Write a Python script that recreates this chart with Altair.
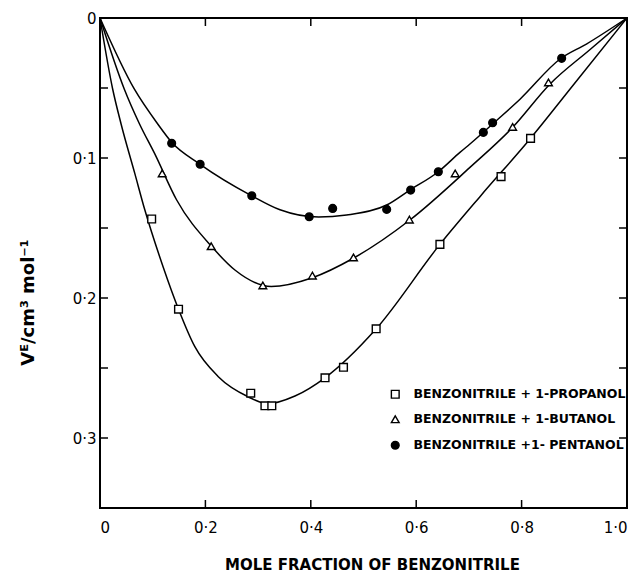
import altair as alt
import pandas as pd

SERIES = ["BENZONITRILE + 1-PROPANOL", "BENZONITRILE + 1-BUTANOL", "BENZONITRILE +1- PENTANOL"]

# measured points
prop_x = [0.098, 0.149, 0.286, 0.313, 0.326, 0.427, 0.462, 0.524, 0.645, 0.761, 0.817]
prop_y = [0.1436, 0.208, 0.268, 0.277, 0.277, 0.257, 0.2495, 0.222, 0.1617, 0.1133, 0.086]
but_x = [0.118, 0.211, 0.309, 0.403, 0.481, 0.587, 0.674, 0.783, 0.851]
but_y = [0.111, 0.163, 0.191, 0.184, 0.171, 0.144, 0.111, 0.0778, 0.0460]
pent_x = [0.136, 0.190, 0.288, 0.397, 0.4415, 0.544, 0.5895, 0.642, 0.7274, 0.745, 0.876]
pent_y = [0.0895, 0.1045, 0.127, 0.142, 0.136, 0.1367, 0.1229, 0.1098, 0.0817, 0.0748, 0.0288]

# fitted curves
prop_cx = [0, 0.024, 0.040, 0.066, 0.085, 0.12, 0.149, 0.18, 0.2245, 0.281, 0.318, 0.37,
           0.427, 0.522, 0.645, 0.721, 0.816, 0.90, 1.0]
prop_cy = [0, 0.0507, 0.0757, 0.111, 0.137, 0.178, 0.208, 0.2348, 0.2562, 0.2705, 0.2755,
           0.270, 0.257, 0.2229, 0.1617, 0.1276, 0.0864, 0.047, 0]
but_cx = [0, 0.046, 0.075, 0.104, 0.1455, 0.212, 0.256, 0.325, 0.403, 0.4807, 0.588, 0.702,
          0.783, 0.854, 0.93, 1.0]
but_cy = [0, 0.0507, 0.0757, 0.0971, 0.130, 0.1633, 0.18, 0.1918, 0.1855, 0.1716, 0.1443,
          0.1067, 0.0781, 0.0471, 0.0225, 0]
pent_cx = [0, 0.065, 0.1095, 0.136, 0.19, 0.288, 0.3416, 0.415, 0.468, 0.544, 0.588, 0.642, 0.683,
           0.702, 0.753, 0.797, 0.873, 0.923, 1.0]
pent_cy = [0, 0.0507, 0.0757, 0.0888, 0.1045, 0.127, 0.137, 0.1422, 0.1407, 0.1336, 0.1229, 0.1098,
           0.096, 0.090, 0.073, 0.058, 0.0293, 0.0186, 0]

# axis ticks
x_ticks = [0, 0.2, 0.4, 0.6, 0.8, 1.0]
y_ticks = [0, 0.1, 0.2, 0.3]
x_minor = [0.2, 0.4, 0.6, 0.8]
y_minor = [0.05, 0.1, 0.15, 0.2, 0.25, 0.3]

W, H = 527, 490
X_DOM, Y_DOM = [0, 1], [0, 0.35]
TICK_PX = 8

pts = pd.concat([
    pd.DataFrame({"x": prop_x, "y": prop_y, "series": SERIES[0]}),
    pd.DataFrame({"x": but_x, "y": but_y, "series": SERIES[1]}),
    pd.DataFrame({"x": pent_x, "y": pent_y, "series": SERIES[2]}),
])
crv = pd.concat([
    pd.DataFrame({"x": prop_cx, "y": prop_cy, "series": SERIES[0]}),
    pd.DataFrame({"x": but_cx, "y": but_cy, "series": SERIES[1]}),
    pd.DataFrame({"x": pent_cx, "y": pent_cy, "series": SERIES[2]}),
])
ytick_df = pd.DataFrame({"y": y_minor})
xtick_df = pd.DataFrame({"x": x_minor})

FONT = "DejaVu Sans"
xscale = alt.Scale(domain=X_DOM, nice=False, zero=False)
yscale = alt.Scale(domain=Y_DOM, nice=False, reverse=True)

x_axis = alt.Axis(values=x_ticks, grid=False, domain=False, ticks=False, labelPadding=12,
                  labelExpr="datum.value == 0 ? '0' : replace(format(datum.value, '.1f'), '.', '·')",
                  labelFlush=True, labelFont=FONT, labelFontSize=15, labelColor="black",
                  title="MOLE FRACTION OF BENZONITRILE", titleFont=FONT, titleFontSize=15,
                  titleFontWeight="bold", titleColor="black", titleX=272, titleY=56,
                  titleBaseline="middle")
y_axis = alt.Axis(values=y_ticks, grid=False, domain=False, ticks=False, labelPadding=4,
                  labelExpr="datum.value == 0 ? '0' : replace(format(datum.value, '.1f'), '.', '·')",
                  labelFlush=False, labelFont=FONT, labelFontSize=15, labelColor="black",
                  labelBaseline="middle",
                  title="Vᴱ/cm³  mol⁻¹", titleFont=FONT, titleFontSize=18,
                  titleFontWeight="bold", titleColor="black", titleX=-72, titleY=284,
                  titleBaseline="middle", titleAngle=-90)

lines = alt.Chart(crv).mark_line(color="black", strokeWidth=1.5, interpolate="monotone").encode(
    x=alt.X("x:Q", scale=xscale, axis=x_axis),
    y=alt.Y("y:Q", scale=yscale, axis=y_axis),
    detail="series:N",
    order="x:Q",
)

# inward ticks drawn as one-sided line symbols anchored on the frame edges
TICK_SIZE = (2 * TICK_PX) ** 2  # custom symbol paths are scaled by sqrt(size) / 2


def edge_ticks(df, pos, edge_value, horizontal, path):
    mark = alt.Chart(df).mark_point(shape=path, filled=False, stroke="black", strokeWidth=1.5,
                                    size=TICK_SIZE, opacity=1, strokeCap="butt")
    calc = mark.transform_calculate(edge=str(edge_value))
    if horizontal:
        return calc.encode(y=f"{pos}:Q", x=alt.X("edge:Q"))
    return calc.encode(x=f"{pos}:Q", y=alt.Y("edge:Q"))


tick_left = edge_ticks(ytick_df, "y", X_DOM[0], True, "M0,0H1")
tick_right = edge_ticks(ytick_df, "y", X_DOM[1], True, "M0,0H-1")
tick_top = edge_ticks(xtick_df, "x", Y_DOM[0], False, "M0,0V1")
tick_bottom = edge_ticks(xtick_df, "x", Y_DOM[1], False, "M0,0V-1")

leg = alt.Legend(title=None, orient="none", legendX=289, legendY=370, padding=0,
                 labelFont=FONT, labelFontSize=12.5, labelFontWeight="bold", labelColor="black",
                 labelOffset=12, rowPadding=12, symbolSize=60,
                 symbolStrokeWidth=1.4, symbolOffset=0, labelLimit=300)

points = alt.Chart(pts).mark_point(filled=True, strokeWidth=1.4, size=60, opacity=1).encode(
    x="x:Q",
    y="y:Q",
    shape=alt.Shape("series:N", scale=alt.Scale(domain=SERIES, range=["square", "triangle-up", "circle"]), legend=leg),
    fill=alt.Fill("series:N", scale=alt.Scale(domain=SERIES, range=["white", "white", "black"]), legend=leg),
    stroke=alt.Stroke("series:N", scale=alt.Scale(domain=SERIES, range=["black", "black", "black"]), legend=leg),
)

chart = alt.layer(lines, points, tick_left, tick_right, tick_top, tick_bottom).properties(
    width=W, height=H,
    autosize=alt.AutoSizeParams(type="none"),
    padding={"left": 92, "top": 10, "right": 3, "bottom": 65},
    background="white",
).configure_view(stroke="black", strokeWidth=2)

chart.save("out.html", embed_options={"renderer": "svg", "actions": False})
